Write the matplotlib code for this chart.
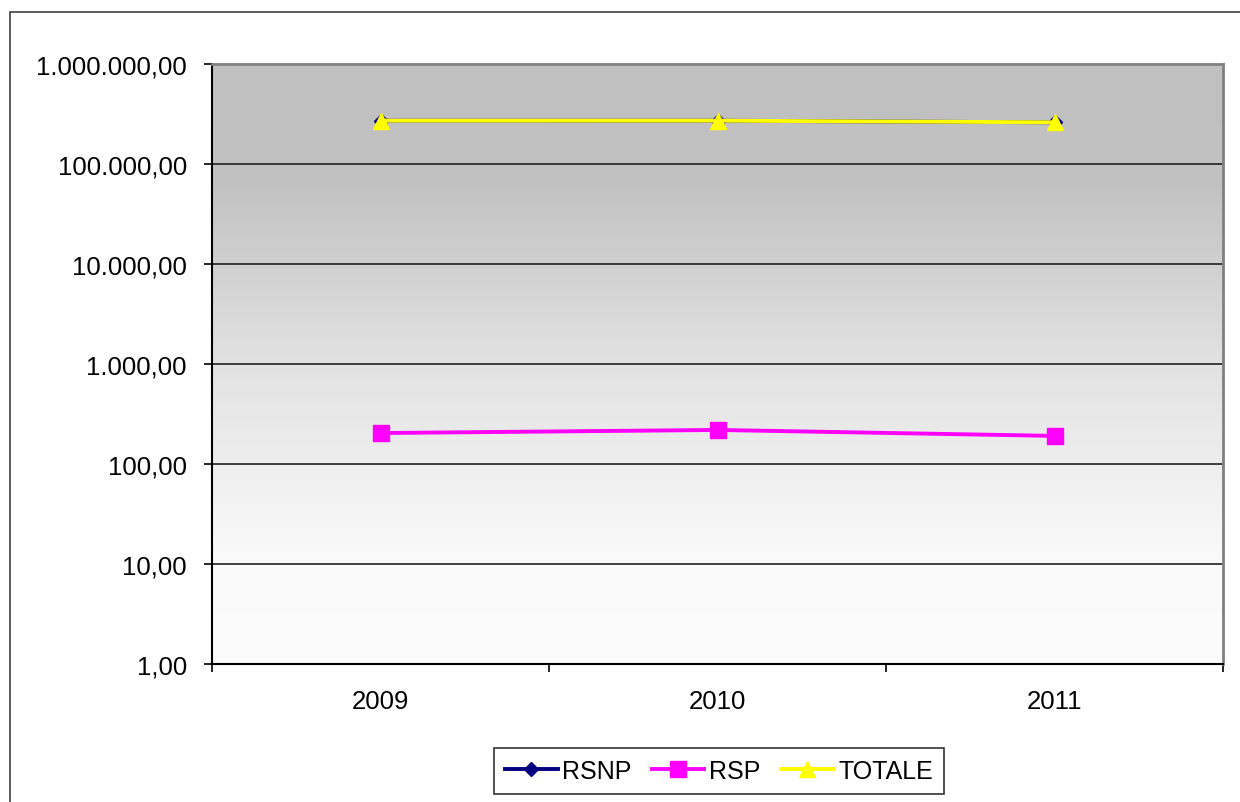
import matplotlib
matplotlib.use("Agg")
import matplotlib.pyplot as plt
import numpy as np
from matplotlib.ticker import FixedLocator, FuncFormatter, NullFormatter
from matplotlib.patches import Rectangle
from matplotlib.colors import LinearSegmentedColormap

years = ["2009", "2010", "2011"]
rsnp = [270800, 271000, 261000]
rsp = [204, 219, 191]
totale = [271000, 271200, 261200]
y_ticks = [1, 10, 100, 1000, 10000, 100000, 1000000]

plt.rcParams['font.family'] = ['Liberation Sans', 'DejaVu Sans']

W, H = 1240, 803
fig = plt.figure(figsize=(W / 100, H / 100), dpi=100)
fig.patch.set_facecolor("white")

# outer chart border
fig.patches.append(Rectangle((10 / W, -0.1), 2.0, (H - 13) / H + 0.1,
                             transform=fig.transFigure, fill=False,
                             edgecolor="#404040", linewidth=1.2, zorder=0))

ax = fig.add_axes([212 / W, 1 - 665 / H, (1223 - 212) / W, (665 - 65) / H])
ax.set_yscale("log")
ax.set_ylim(1, 1e6)
ax.set_xlim(-0.5, 2.5)

# gradient background
cmap = LinearSegmentedColormap.from_list(
    "g", [(0.0, "#fcfcfc"), (0.17, "#fafafa"), (0.5, "#e2e2e2"),
          (0.8, "#c2c2c2"), (1.0, "#c0c0c0")])
grad = np.linspace(0, 1, 256).reshape(-1, 1)
ax.imshow(grad, cmap=cmap, origin="lower", extent=[0, 1, 0, 1],
          transform=ax.transAxes, aspect="auto", zorder=0)

for t in y_ticks[1:-1]:
    ax.axhline(t, color="#202020", linewidth=1.2, zorder=1)

x = np.arange(len(years))
ax.plot(x, rsnp, color="#000080", marker="D", markersize=7, linewidth=2.8,
        label="RSNP", zorder=3)
ax.plot(x, rsp, color="#ff00ff", marker="s", markersize=11, linewidth=2.8,
        label="RSP", zorder=3)
ax.plot(x, totale, color="#ffff00", marker="^", markersize=11, linewidth=2.8,
        label="TOTALE", zorder=4)

def it_fmt(v, pos):
    s = f"{v:,.2f}"
    return s.replace(",", "X").replace(".", ",").replace("X", ".")

ax.yaxis.set_major_locator(FixedLocator(y_ticks))
ax.yaxis.set_major_formatter(FuncFormatter(it_fmt))
ax.yaxis.set_minor_formatter(NullFormatter())
ax.yaxis.set_minor_locator(FixedLocator([]))
ax.tick_params(axis="y", which="major", direction="out", length=6, width=1.2,
               pad=12, labelsize=18.5, colors="black")

ax.set_xticks(x)
ax.set_xticklabels(years)
ax.xaxis.set_minor_locator(FixedLocator([-0.5, 0.5, 1.5, 2.5]))
ax.tick_params(axis="x", which="major", length=0, pad=18, labelsize=18.5)
ax.tick_params(axis="x", which="minor", direction="out", length=6, width=1.2)

for s in ["left", "bottom"]:
    ax.spines[s].set_color("black")
    ax.spines[s].set_linewidth(1.5)
for s in ["top", "right"]:
    ax.spines[s].set_color("#808080")
    ax.spines[s].set_linewidth(2)

leg = fig.legend(loc="center", bbox_to_anchor=(719 / W, 1 - 772 / H), ncol=3,
                 fontsize=18, frameon=True, fancybox=False, edgecolor="black",
                 handlelength=2.1, columnspacing=0.8, handletextpad=0.2,
                 borderpad=0.45)
leg.get_frame().set_linewidth(1.2)

fig.savefig("out.png", dpi=100, facecolor="white")
